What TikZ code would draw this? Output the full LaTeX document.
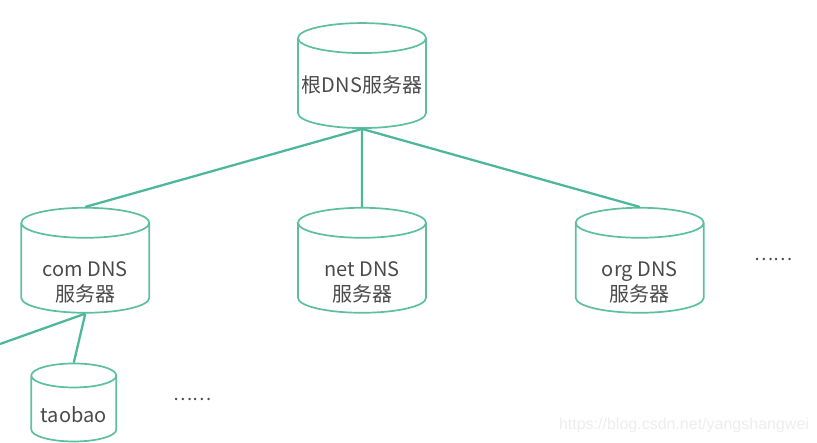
\documentclass[tikz,border=0pt]{standalone}
\usepackage{xcolor}
\usepackage{fontspec}
\setmainfont{Noto Sans CJK SC}
\newfontfamily\wmfont{Liberation Sans}
\usetikzlibrary{shapes.geometric, positioning}
\definecolor{dbgreen}{HTML}{5CBFA0}
\definecolor{linkgreen}{HTML}{4DB899}
\definecolor{labelgray}{HTML}{4A4A4A}
% Label in a box of fixed size, so every drum comes out the same
\newcommand{\drumtext}[2][-20.5pt]{\raisebox{#1}[12pt][12pt]{\makebox[60pt]{\begin{tabular}{@{}c@{}}#2\end{tabular}}}}
\tikzset{
  % Database drum
  dbnode/.style={
    cylinder, shape border rotate=90, shape aspect=0.5
    , draw=dbgreen, line width=0.6mm, inner sep=0pt
    , minimum width=128pt, minimum height=105pt
    , text=labelgray
    , font=\fontsize{20}{25}\selectfont
  },
  % Tree edge style
  garr/.style={
    draw=linkgreen, line width = 0.8mm
  },
  dots/.style={
    text=labelgray, font=\fontsize{18}{18}\selectfont, inner sep=0pt
  },
}
\begin{document}
\begin{tikzpicture}
          \useasboundingbox (0pt,0pt) rectangle (817pt,-443pt);

          \node (root) [dbnode] at (362pt,-83.5pt) {\drumtext[-9.5pt]{根DNS服务器}};

          \node (net) [dbnode
                      , below=78pt of root
                      ]
                      {\drumtext{net DNS\\服务器}};
          \node (com) [dbnode
                      , left=147pt of net
                      ]
                      {\drumtext{com DNS\\服务器}};
          \node (org) [dbnode
                      , right=148pt of net
                      ]
                      {\drumtext{org DNS\\服务器}};
          \node (taobao) [dbnode
                         , minimum width=85pt
                         , minimum height=78pt
                         , shape aspect=0.4
                         , below=49pt of com
                         , xshift=-11.5pt
                         ]
                         {\drumtext[-13.5pt]{taobao}};

          \node (moretop) [dots, right=50pt of org, yshift=8.5pt] {……};
          \node (morelow) [dots, right=56pt of taobao, yshift=9.5pt] {……};
          \coordinate (offpage) at (0pt,-344pt);

          \draw[garr] (root.bottom) -- (com.top);
          \draw[garr] (root.bottom) -- (net.top);
          \draw[garr] (root.bottom) -- (org.top);
          \draw[garr] (com.bottom) -- (taobao.top);
          \draw[garr] (com.bottom) -- (offpage);

          \node (mark) [text=black!7, font=\wmfont\fontsize{16}{16}\selectfont, inner sep=0pt]
               at (684pt,-425pt) {https://blog.csdn.net/yangshangwei};
      \end{tikzpicture}
\end{document}
